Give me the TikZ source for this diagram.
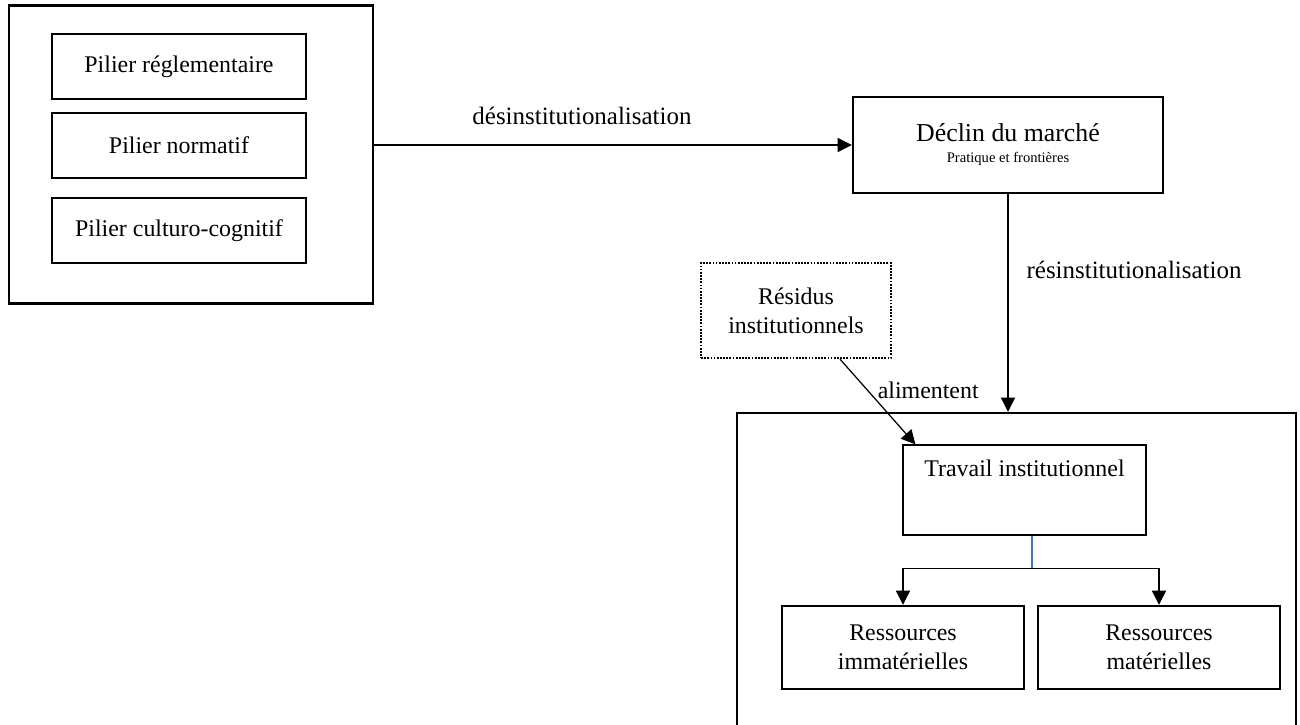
\documentclass[tikz,border=0pt]{standalone}
\usepackage{fontspec}
\setmainfont{Liberation Serif}
\usepackage{tikz}
\usetikzlibrary{positioning, arrows.meta}
\definecolor{linkCol}{RGB}{68,114,196}
\newcommand{\px}{0.02cm}
\tikzset{myText/.style={font=\fontsize{13.6pt}{16.3pt}\selectfont}}
\tikzset{myFrame/.style={draw, line width=1.4pt, inner sep=0pt}}
\tikzset{myBox/.style={draw, line width=1.4pt, inner sep=0pt, align=center, myText}}
\tikzset{myThinBox/.style={draw, line width=0.7pt, inner sep=0pt}}
\tikzset{myDotBox/.style={draw, line width=1.3pt, dash pattern=on 1pt off 0.8pt, inner sep=0pt, align=center, myText}}
\tikzset{myArrow/.style={line width=0.7pt, -{Triangle[length=8pt, width=8pt]}}}
\tikzset{myLabel/.style={inner sep=0pt, font=\fontsize{14.2pt}{17pt}\selectfont}}

\begin{document}
\begin{tikzpicture}[x=\px, y=-\px]
	\useasboundingbox (0,0) rectangle (1300,724);
	\clip (0,0) rectangle (1300,724);

	\node[myFrame, minimum width=364*\px, minimum height=298*\px](pilierFrame) at (191,154.5){};
	\foreach \t/\y [count=\i] in {Pilier réglementaire/66.5, Pilier normatif/145.5, Pilier culturo-cognitif/230.5}{
		\node[myBox, minimum width=254*\px, minimum height=65*\px](pilier\i) at (179,\y){\t};
	}

	\node[myBox, minimum width=310*\px, minimum height=96*\px, font=\fontsize{14.7pt}{11.9pt}\selectfont](declin) at (1008,145){Déclin du marché\\{\fontsize{8.3pt}{10pt}\selectfont Pratique et frontières}};
	\node[myDotBox, minimum width=190*\px, minimum height=95*\px](residus) at (796,310.5){Résidus\\institutionnels};

	\node[myFrame, minimum width=559*\px, minimum height=347*\px](travailFrame) at (1016.5,586.5){};
	\node[myThinBox, minimum width=243*\px, minimum height=90*\px,
		label={[anchor=north, inner sep=0pt, yshift=-15*\px, myText]north:Travail institutionnel}](travail) at (1024.5,490){};
	\node[myBox, minimum width=242*\px, minimum height=83*\px](resImmat) at (903,647.5){Ressources\\immatérielles};
	\node[myBox, minimum width=242*\px, minimum height=83*\px](resMat) at (1159,647.5){Ressources\\matérielles};

	\draw[myArrow](pilierFrame.east |- declin.west)--(declin.west)node[pos=0.435, above=20*\px, myLabel]{désinstitutionalisation};
	\draw[myArrow](declin.south)--(declin.south |- travailFrame.north)node[pos=0.35, right=18*\px, myLabel]{résinstitutionalisation};
	\draw[myArrow]([xshift=44*\px]residus.south)--([xshift=13*\px]travail.north west)node[pos=0.36, anchor=west, xshift=10*\px, inner sep=0pt, myText]{alimentent};

	\draw[linkCol, line width=0.7pt]([xshift=7.5*\px]travail.south)--++(0,33)coordinate(split);
	\draw[myArrow](split)-|(resImmat.north);
	\draw[myArrow](split)-|(resMat.north);
	%\draw[dashed](travail.south)--(split);
\end{tikzpicture}
\end{document}
